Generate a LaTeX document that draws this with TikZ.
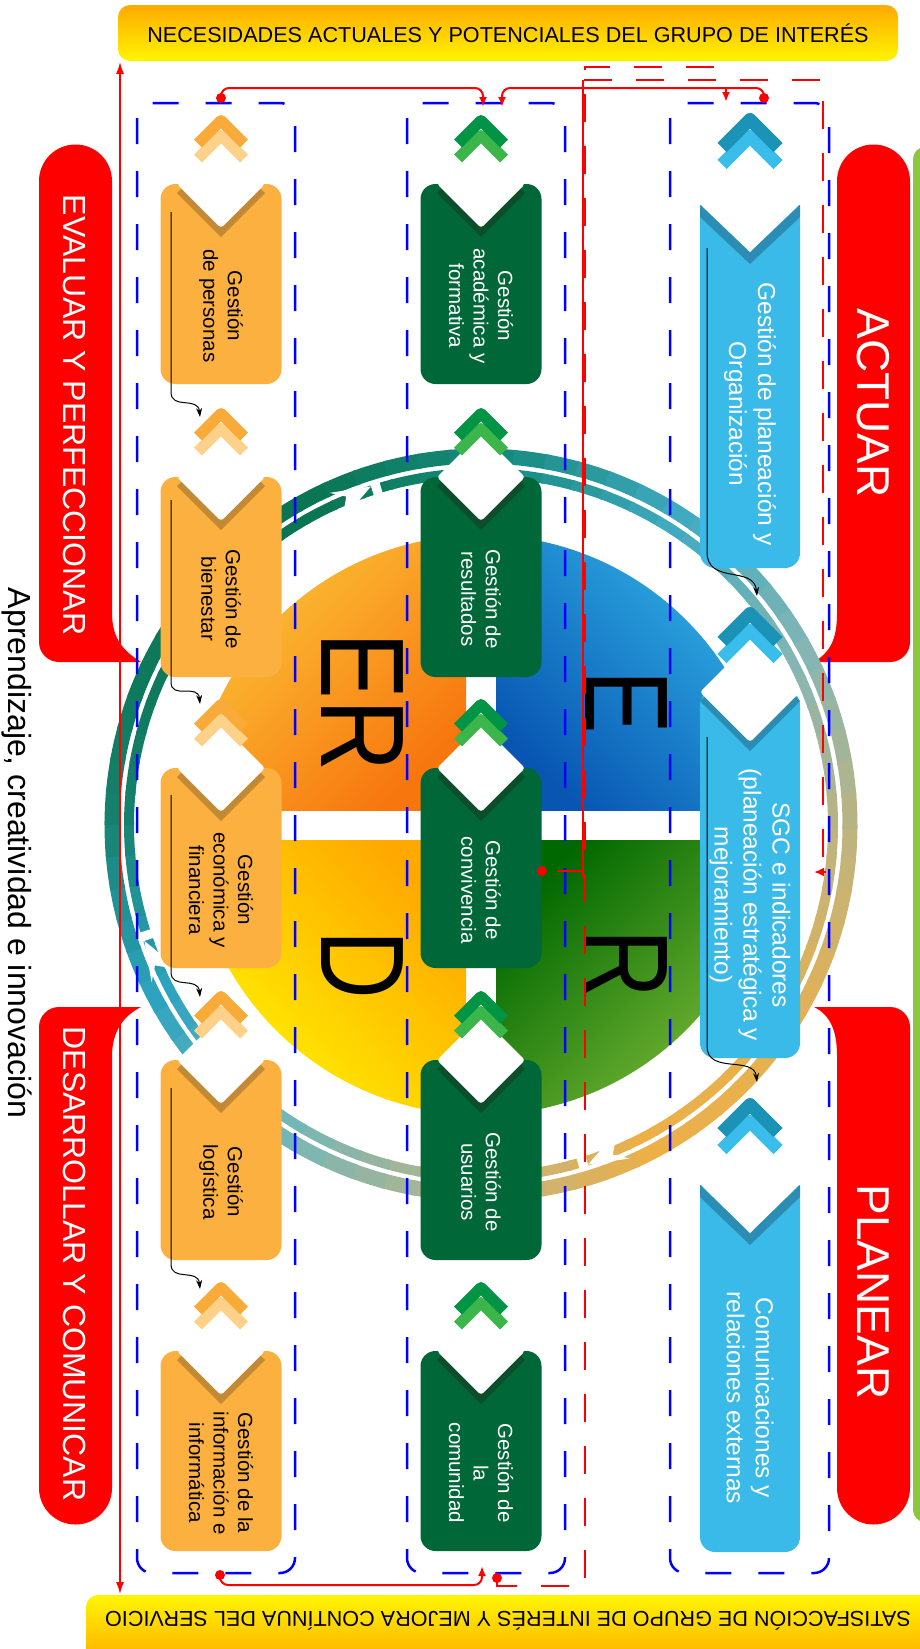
\documentclass[tikz,border=0pt]{standalone}
\usepackage{fontspec}
\setmainfont{Liberation Sans}
\usepackage{graphicx}
\usetikzlibrary{arrows.meta}

\definecolor{oboxc}{HTML}{FBB040}
\definecolor{oshad}{HTML}{C48A33}
\definecolor{ochevD}{HTML}{F9AB3A}
\definecolor{ochevL}{HTML}{FDD189}
\definecolor{gboxc}{HTML}{006838}
\definecolor{gshad}{HTML}{0B4E2B}
\definecolor{gchevD}{HTML}{009444}
\definecolor{gchevL}{HTML}{3CB54A}
\definecolor{bboxc}{HTML}{3ABAE8}
\definecolor{bshad}{HTML}{2C8DB4}
\definecolor{bchevD}{HTML}{1B93B7}
\definecolor{bchevL}{HTML}{3ABDEA}
\definecolor{banO}{HTML}{FFAA00}
\definecolor{banY}{HTML}{FFF500}
\definecolor{leaf}{HTML}{8DC63F}
\definecolor{qOrL}{HTML}{FCC93A}
\definecolor{qOrD}{HTML}{F7760E}
\definecolor{qBlL}{HTML}{33B6E9}
\definecolor{qBlD}{HTML}{0856B2}
\definecolor{qGrD}{HTML}{006800}
\definecolor{qGrL}{HTML}{84BF3C}
\definecolor{qYeD}{HTML}{FFA800}
\definecolor{qYeL}{HTML}{FFF600}
\definecolor{rc0}{HTML}{C0B47E}
\definecolor{rc1}{HTML}{E4B152}
\definecolor{rc2}{HTML}{EDB047}
\definecolor{rc3}{HTML}{B8B48A}
\definecolor{rc4}{HTML}{72B6B8}
\definecolor{rc5}{HTML}{2DA3C0}
\definecolor{rc6}{HTML}{15806C}
\definecolor{rc7}{HTML}{0C7656}
\definecolor{rc8}{HTML}{0A7552}
\definecolor{rc9}{HTML}{178A7E}
\definecolor{rc10}{HTML}{3FAAC0}
\definecolor{rc11}{HTML}{86B6B4}

\tikzset{
  obox/.style={fill=oboxc, rounded corners=15pt, minimum width=121pt, minimum height=200pt, inner sep=0pt},
  gbox/.style={obox, fill=gboxc},
  bluebox/.style={fill=bboxc, rounded corners=15pt, minimum width=100pt, inner sep=0pt},
  boxtext/.style={rotate=-90, align=center, inner sep=0pt, font=\fontsize{20.5}{24.5}\selectfont},
  otext/.style={boxtext, text=black},
  gtext/.style={boxtext, text=white},
  btext/.style={boxtext, text=white, font=\fontsize{24.5}{29}\selectfont},
  tabtext/.style={rotate=-90, text=white, inner sep=0pt, font=\fontsize{32}{38}\selectfont},
  bigtab/.style={rotate=-90, text=white, inner sep=0pt, font=\fontsize{46}{50}\selectfont},
  quadletter/.style={rotate=-90, inner sep=0pt, font=\fontsize{119}{120}\selectfont},
  banner/.style={inner sep=0pt, font=\fontsize{21.6}{26}\selectfont},
  lanebox/.style={blue, line width=2.5pt, dash pattern=on 26pt off 27pt, rounded corners=15pt},
  reddash/.style={red, line width=2pt, dash pattern=on 28pt off 24pt},
  redcon/.style={red, line width=2pt, rounded corners=8pt, -{Latex[length=10pt,width=8pt]}},
  blackcon/.style={black, line width=1pt, -{Stealth[length=9pt,width=6pt]}},
  pics/chev/.style 2 args={code={
    \draw[#2, line width=11pt, line join=round] (-23,43.5) -- (0,20.5) -- (23,43.5);
    \draw[#1, line width=11pt, line join=round] (-23,28.5) -- (0,5.5) -- (23,28.5);
  }},
  pics/bchev/.style={code={
    \draw[bchevL, line width=13pt, line join=round] (-28,51.5) -- (0,23.5) -- (28,51.5);
    \draw[bchevD, line width=13pt, line join=round] (-28,34.5) -- (0,6.5) -- (28,34.5);
  }},
  pics/notch/.style 2 args={code={
    \fill[#1] (-#2,9) -- (0,#2+9) -- (#2,9) -- (0,9-#2) -- cycle;
    \fill[white, rounded corners=3pt] (-#2,0) -- (0,#2) -- (#2,0) -- (0,-#2) -- cycle;
  }},
}

\begin{document}
\begin{tikzpicture}[x=1pt, y=-1pt]
  \useasboundingbox (0,0) rectangle (920,1649);

  % franja verde y pestanas rojas
  \fill[leaf, rounded corners=12pt] (913,147) rectangle (960,1522);
  \fill[red] (112,181) arc[start angle=0, end angle=-180, radius=36.5] -- (39,642)
    arc[start angle=180, end angle=90, radius=20] -- (141,662) .. controls (125,652) and (112,640) .. (112,613) -- cycle;
  \fill[red] (141,1007) -- (59,1007) arc[start angle=270, end angle=180, radius=20] -- (39,1488)
    arc[start angle=180, end angle=0, radius=36.5] -- (112,1056) .. controls (112,1030) and (125,1015) .. (141,1007) -- cycle;
  \fill[red] (837,181) arc[start angle=180, end angle=360, radius=36.5] -- (910,642)
    arc[start angle=0, end angle=90, radius=20] -- (814,662) .. controls (830,652) and (837,640) .. (837,613) -- cycle;
  \fill[red] (814,1007) -- (890,1007) arc[start angle=270, end angle=360, radius=20] -- (910,1488)
    arc[start angle=0, end angle=180, radius=36.5] -- (837,1056) .. controls (837,1030) and (830,1015) .. (814,1007) -- cycle;
  \node[tabtext] (evalT) at (75,415) {EVALUAR Y PERFECCIONAR};
  \node[tabtext] (desT) at (75,1264) {DESARROLLAR Y COMUNICAR};
  \node[bigtab] (actT) at (873,403) {ACTUAR};
  \node[bigtab] (planeT) at (873,1292) {PLANEAR};

  % banners
  \shade[top color=banO, bottom color=banY, rounded corners=12pt] (118,5) rectangle (898,61);
  \node[banner] (need) at (508,33) {NECESIDADES ACTUALES Y POTENCIALES DEL GRUPO DE INTERÉS};
  \shade[top color=banY, bottom color=banO, rounded corners=12pt] (86,1595) rectangle (950,1665);
  \node[banner, rotate=180] (satis) at (508,1621) {SATISFACCIÓN DE GRUPO DE INTERÉS Y MEJORA CONTÍNUA DEL SERVICIO};

  % circulo por cuadrantes
  \begin{scope}
    \clip (481,825) circle[radius=290];
    \shade[top color=qOrL, bottom color=qOrD, shading angle=45] (181,525) rectangle (466,810);
    \shade[top color=qBlL, bottom color=qBlD, shading angle=-45] (496,525) rectangle (781,810);
    \shade[top color=qGrD, bottom color=qGrL, shading angle=45] (496,840) rectangle (781,1125);
    \shade[top color=qYeD, bottom color=qYeL, shading angle=-45] (181,840) rectangle (466,1125);
  \end{scope}
  \node[quadletter] (qER) at (362,702) {\scalebox{0.84}[1]{ER}};
  \node[quadletter] (qE) at (626,702) {\scalebox{0.8}[1]{E}};
  \node[quadletter] (qR) at (626,964) {\scalebox{0.8}[1]{R}};
  \node[quadletter] (qD) at (362,965) {\scalebox{0.8}[1]{D}};

  % anillo con flechas
  \begin{scope}[shift={(481,825)}]
    \foreach \i in {0,...,71}{
      \pgfmathtruncatemacro\ra{floor(\i/6)}
      \pgfmathtruncatemacro\rb{mod(\ra+1,12)}
      \pgfmathtruncatemacro\rp{100*mod(\i,6)/6}
      \colorlet{ringc}{rc\rb!\rp!rc\ra}
      \draw[ringc, line width=15pt] (\i*5:369) arc[start angle=\i*5, end angle=\i*5+5.6, radius=369];
      \draw[ringc, line width=10pt] (\i*5:352) arc[start angle=\i*5, end angle=\i*5+5.6, radius=352];
    }
    \foreach \a in {72.5,161,252}{
      \draw[white, line width=11pt] (\a:352) arc[start angle=\a, end angle=\a+1.5, radius=352];
      \fill[white] (\a:356) -- (\a-6.5:365) -- (\a-4.3:355) -- (\a-6.5:335) -- cycle;
    }
  \end{scope}

  % columna naranja
  \node[obox] (pers) at (221,284) {};
  \node[obox] (bien) at (221,577) {};
  \node[obox] (econ) at (221,868) {};
  \node[obox] (logi) at (221,1160) {};
  \node[obox] (info) at (221,1451) {};
  \pic at (221,184) {notch={oshad}{44}};
  \pic at (221,477) {notch={oshad}{44}};
  \pic at (221,768) {notch={oshad}{44}};
  \pic at (221,1060) {notch={oshad}{44}};
  \pic at (221,1351) {notch={oshad}{44}};
  \pic at (221,115) {chev={ochevD}{ochevL}};
  \pic at (221,408) {chev={ochevD}{ochevL}};
  \pic at (221,699) {chev={ochevD}{ochevL}};
  \pic at (221,991) {chev={ochevD}{ochevL}};
  \pic at (221,1282) {chev={ochevD}{ochevL}};
  \node[otext] (persT) at (221,306) {Gestión\\de personas};
  \node[otext] (bienT) at (221,599) {Gestión de\\bienestar};
  \node[otext] (econT) at (221,890) {Gestión\\económica y\\financiera};
  \node[otext] (logiT) at (221,1182) {Gestión\\logística};
  \node[otext] (infoT) at (221,1473) {Gestión de la\\información e\\informática};

  % columna verde
  \node[gbox] (acad) at (481,284) {};
  \node[gbox] (resu) at (481,577) {};
  \node[gbox] (conv) at (481,868) {};
  \node[gbox] (usua) at (481,1160) {};
  \node[gbox] (comu) at (481,1451) {};
  \pic at (481,184) {notch={gshad}{44}};
  \pic at (481,477) {notch={gshad}{44}};
  \pic at (481,768) {notch={gshad}{44}};
  \pic at (481,1060) {notch={gshad}{44}};
  \pic at (481,1351) {notch={gshad}{44}};
  \pic at (481,115) {chev={gchevD}{gchevL}};
  \pic at (481,408) {chev={gchevD}{gchevL}};
  \pic at (481,699) {chev={gchevD}{gchevL}};
  \pic at (481,991) {chev={gchevD}{gchevL}};
  \pic at (481,1282) {chev={gchevD}{gchevL}};
  \node[gtext] (acadT) at (481,306) {Gestión\\académica y\\formativa};
  \node[gtext] (resuT) at (481,599) {Gestión de\\resultados};
  \node[gtext] (convT) at (481,890) {Gestión de\\convivencia};
  \node[gtext] (usuaT) at (481,1182) {Gestión de\\usuarios};
  \node[gtext] (comuT) at (481,1473) {Gestión de\\la\\comunidad};

  % columna azul
  \node[bluebox, minimum height=363pt] (plan) at (750,386.5) {};
  \fill[bboxc] (700,205) rectangle (800,240);
  \fill[bshad] (700,205) -- (750,252) -- (800,205) -- (800,217) -- (750,264) -- (700,217) -- cycle;
  \fill[white] (700,204) -- (750,252) -- (800,204) -- cycle;
  \node[bluebox, minimum height=368pt] (sgc) at (750,874) {};
  \pic at (750,692) {notch={bshad}{50}};
  \node[bluebox, minimum height=367pt] (comr) at (750,1368.5) {};
  \fill[bboxc] (700,1185) rectangle (800,1220);
  \fill[bshad] (700,1185) -- (750,1233) -- (800,1185) -- (800,1197) -- (750,1245) -- (700,1197) -- cycle;
  \fill[white] (700,1184) -- (750,1233) -- (800,1184) -- cycle;
  \pic at (750,113) {bchev};
  \pic at (750,607) {bchev};
  \pic at (750,1098) {bchev};
  \node[btext] (planT) at (750,414) {Gestión de planeación y\\Organización};
  \node[btext] (sgcT) at (750,905) {SGC e indicadores\\(planeación estratégica y\\mejoramiento)};
  \node[btext] (comrT) at (750,1398) {Comunicaciones y\\relaciones externas};

  % carriles punteados
  \draw[lanebox] (137,103) rectangle (295,1573);
  \draw[lanebox] (407,103) rectangle (565,1573);
  \draw[lanebox] (670,103) rectangle (829,1573);

  % flechas negras entre procesos
  \coordinate (persS) at (171,212);  \coordinate (bienC) at (200,417);
  \coordinate (bienS) at (171,500);  \coordinate (econC) at (200,704);
  \coordinate (econS) at (171,795);  \coordinate (logiC) at (200,997);
  \coordinate (logiS) at (171,1088); \coordinate (infoC) at (200,1289);
  \coordinate (planS) at (707,248);  \coordinate (sgcC) at (757,596);
  \coordinate (sgcS) at (707,737);   \coordinate (comrC) at (757,1082);
  \draw[blackcon] (persS) -- (171,392) .. controls (171,410) and (198,396) .. (bienC);
  \draw[blackcon] (bienS) -- (171,682) .. controls (171,700) and (198,683) .. (econC);
  \draw[blackcon] (econS) -- (171,972) .. controls (171,990) and (198,976) .. (logiC);
  \draw[blackcon] (logiS) -- (171,1264) .. controls (171,1282) and (198,1268) .. (infoC);
  \draw[blackcon] (planS) -- (707,552) .. controls (707,585) and (754,565) .. (sgcC);
  \draw[blackcon] (sgcS) -- (707,1046) .. controls (707,1075) and (754,1055) .. (comrC);

  % conexiones rojas
  \coordinate (needIn) at (120,62);
  \coordinate (satIn) at (120,1594);
  \draw[red, line width=1.5pt, {Latex[length=12pt,width=8pt]}-{Latex[length=12pt,width=8pt]}] (needIn) -- (satIn);
  \coordinate (persTop) at (221,98);
  \coordinate (acadIn1) at (483,107);
  \coordinate (acadIn2) at (502,107);
  \coordinate (planTop) at (764,98);
  \coordinate (planFork) at (726,88);
  \coordinate (planIn) at (726,102);
  \fill[red] (persTop) circle[radius=5];
  \fill[red] (planTop) circle[radius=5];
  \draw[redcon] (persTop) -- ++(0,-10) -| (acadIn1);
  \draw[redcon] (planTop) -- ++(0,-10) -| (acadIn2);
  \draw[red, line width=2pt, -{Latex[length=10pt,width=8pt]}] (planFork) -- (planIn);
  \coordinate (infoBot) at (220,1575);
  \coordinate (comuIn) at (482,1566);
  \fill[red] (infoBot) circle[radius=5];
  \draw[redcon] (infoBot) -- ++(0,10) -| (comuIn);
  \coordinate (comuBot) at (497,1578);
  \fill[red] (comuBot) circle[radius=5];
  \draw[reddash] (comuBot) -- (497,1586) -- (585,1586) -- (585,67) -- (716,67);
  \draw[reddash] (584,80) -- (823,80) -- (823,872);
  \coordinate (sgcIn) at (814,872);
  \draw[red, line width=2pt, -{Latex[length=10pt,width=9pt]}] (826,872) -- (sgcIn);
  \coordinate (convOut) at (542,871);
  \coordinate (convLine) at (557,871);
  \fill[red] (convOut) circle[radius=5];
  \draw[red, line width=1.2pt] (583,80) -- (583,871);
  \draw[red, line width=2pt, -{Bar[width=12pt]}] (convLine) -- (584,871);

  % lema lateral
  \node[rotate=-90, inner sep=0pt, font=\fontsize{32}{38}\selectfont] (apr) at (17,853) {Aprendizaje, creatividad e innovación};
\end{tikzpicture}
\end{document}
